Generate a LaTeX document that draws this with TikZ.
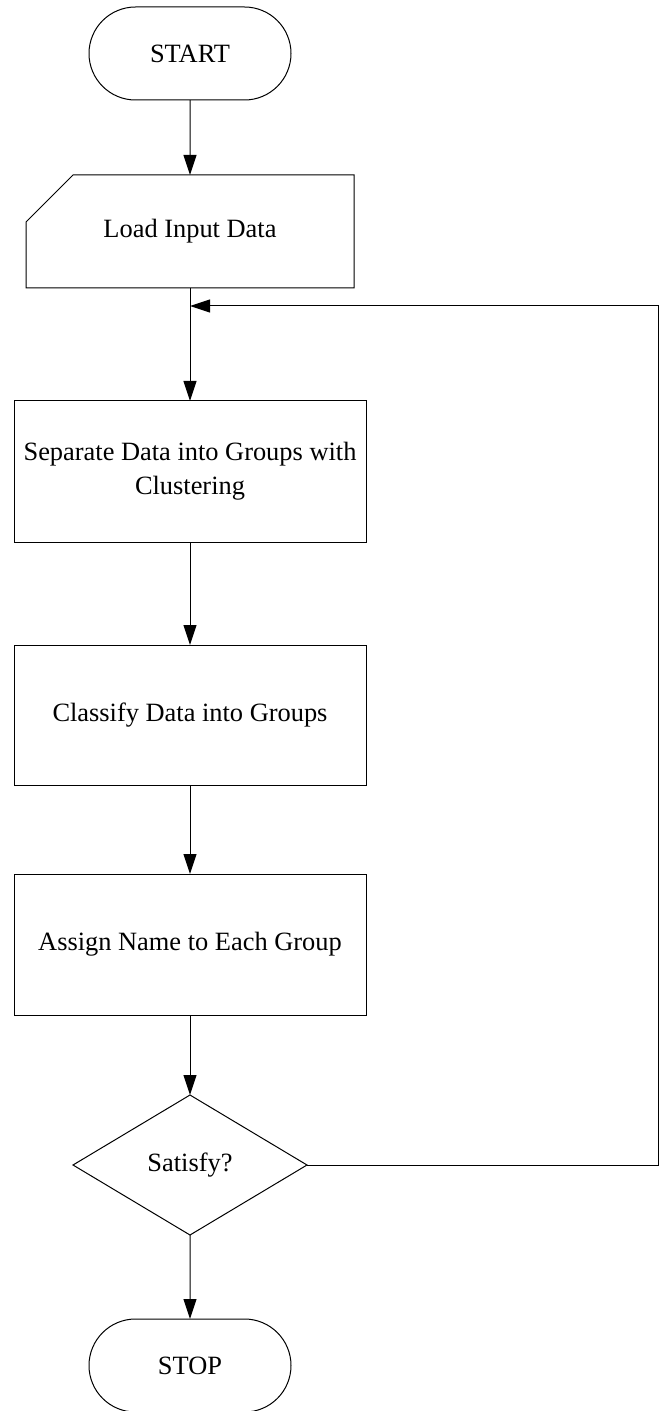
\documentclass[tikz,border=0pt]{standalone}
\usepackage{fontspec}
\setmainfont{Liberation Serif}
\usetikzlibrary{shapes.misc,shapes.geometric,arrows.meta}
\begin{document}
\begin{tikzpicture}[x=0.5pt,y=-0.5pt,
  every node/.style={font=\fontsize{13.2}{17}\selectfont, inner sep=0pt, outer sep=0pt},
  terminal/.style={rounded rectangle, draw, line width=0.5pt, minimum width=101pt, minimum height=46.5pt},
  procbox/.style={rectangle, draw, line width=0.5pt, minimum width=176pt, minimum height=70.5pt, align=center},
  loadbox/.style={rectangle, minimum width=164pt, minimum height=56.5pt},
  decision/.style={diamond, draw, line width=0.5pt, aspect=1.671, minimum width=117pt, minimum height=70pt},
  flow/.style={draw, line width=0.5pt, -{Triangle[length=10pt,width=6.5pt]}},
  conn/.style={draw, line width=0.5pt}]
\useasboundingbox (0,0) rectangle (664,1411);
\node[terminal] (start) at (190,53.5) {START};
\node[loadbox] (load) at (190,231.5) {Load Input Data};
\draw[line width=0.5pt] ([yshift=-23.5pt]load.north west) -- ([xshift=23.5pt]load.north west) -- (load.north east) -- (load.south east) -- (load.south west) -- cycle;
\node[procbox] (sep) at (190,471.5) {Separate Data into Groups with\\Clustering};
\node[procbox, minimum height=70pt] (cls) at (190,715) {Classify Data into Groups};
\node[procbox] (asg) at (190,944.5) {Assign Name to Each Group};
\node[decision] (sat) at (190,1165) {Satisfy?};
\node[terminal] (stop) at (190,1365.5) {STOP};
\coordinate (fbj) at (190,306);
\coordinate (fbr) at (658,306);
\draw[flow] (start) -- (load);
\draw[flow] (load) -- (sep);
\draw[flow] (sep) -- (cls);
\draw[flow] (cls) -- (asg);
\draw[flow] (asg) -- (sat);
\draw[flow] (sat) -- (stop);
\draw[flow] (sat.east) -| (fbr) -- (fbj);
\end{tikzpicture}
\end{document}
